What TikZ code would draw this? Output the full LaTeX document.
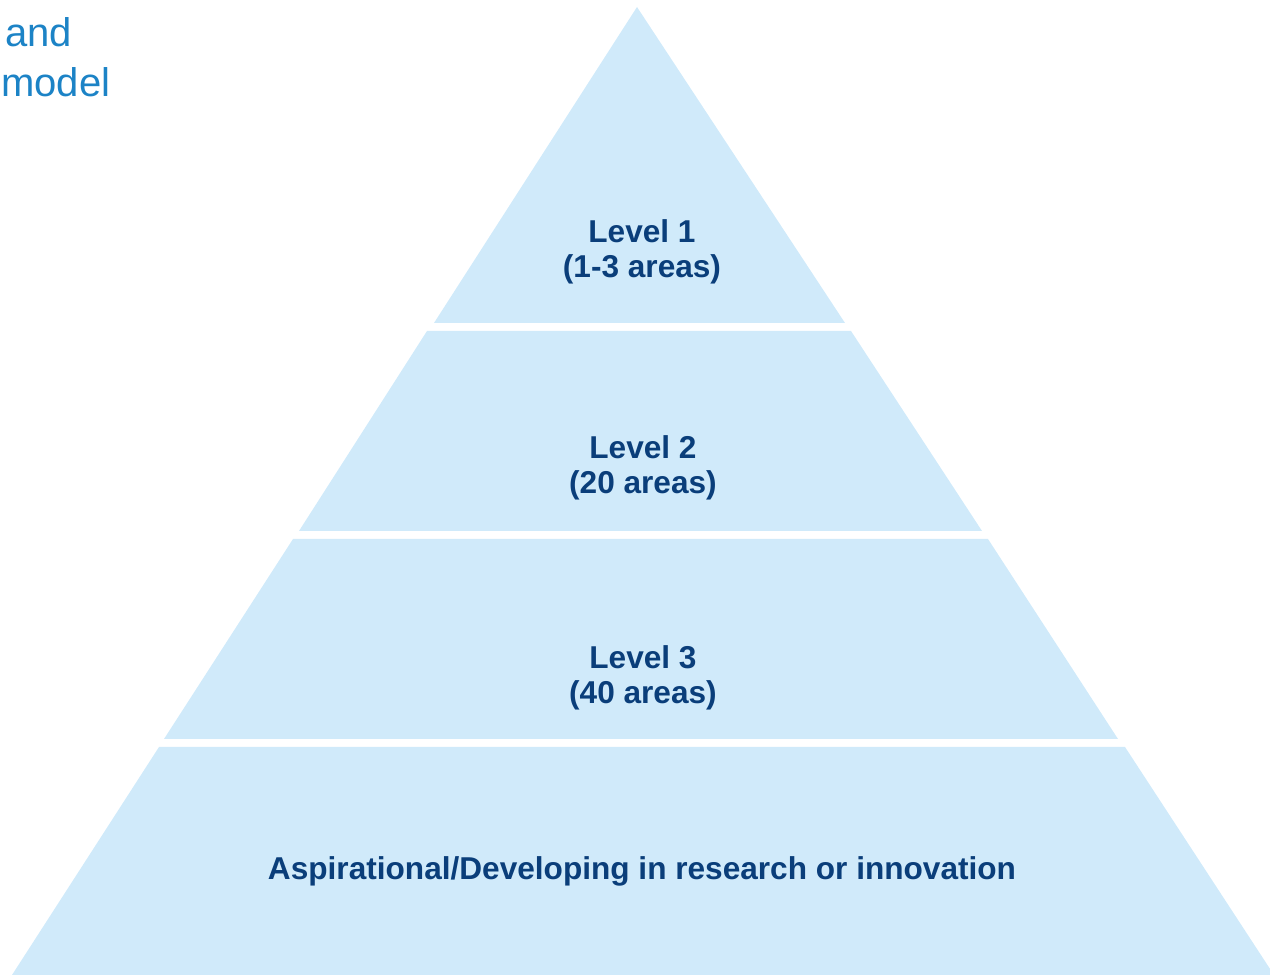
\documentclass[tikz,border=0pt]{standalone}
\usepackage{fontspec}
\setmainfont{Liberation Sans}
\usepackage{xcolor}
\usetikzlibrary{positioning}

\definecolor{bandblue}{RGB}{208,234,250}
\definecolor{leveltext}{RGB}{10,62,122}
\definecolor{titleblue}{RGB}{28,131,198}

\begin{document}
\begin{tikzpicture}[x=0.5pt, y=-0.5pt]
    % Styles
    \tikzstyle{band} = [fill=bandblue, draw=none]
    \tikzstyle{level} = [text=leveltext, font=\fontsize{15.8}{17.3}\selectfont\bfseries, align=center, inner sep=0pt]
    \tikzstyle{title} = [text=titleblue, font=\fontsize{20}{24}\selectfont, align=left, inner sep=0pt, anchor=base west]

    \useasboundingbox (0,0) rectangle (1270,977);
    \clip (0,0) rectangle (1270,977);

    % Bands
    \path [band] (637,7) -- (845,323) -- (434,323) -- cycle;
    \path [band] (427,331) -- (851,331) -- (982,531) -- (299,531) -- cycle;
    \path [band] (293,539) -- (988,539) -- (1118,739) -- (164,739) -- cycle;
    \path [band] (159,747) -- (1125,747) -- (1274,975) -- (12,975) -- cycle;

    % Nodes
    \node [level] (lvlone) at (642,252) {Level 1\\(1-3 areas)};
    \node [level] (lvltwo) at (643,468) {Level 2\\(20 areas)};
    \node [level] (lvlthree) at (643,678) {Level 3\\(40 areas)};
    \node [level] (aspire) at (642,871) {Aspirational/Developing in research or innovation};

    % Heading at top left
    \node [title] (headand) at (5,47) {and};
    \node [title] (headmodel) at (1,97) {model};
\end{tikzpicture}
\end{document}
